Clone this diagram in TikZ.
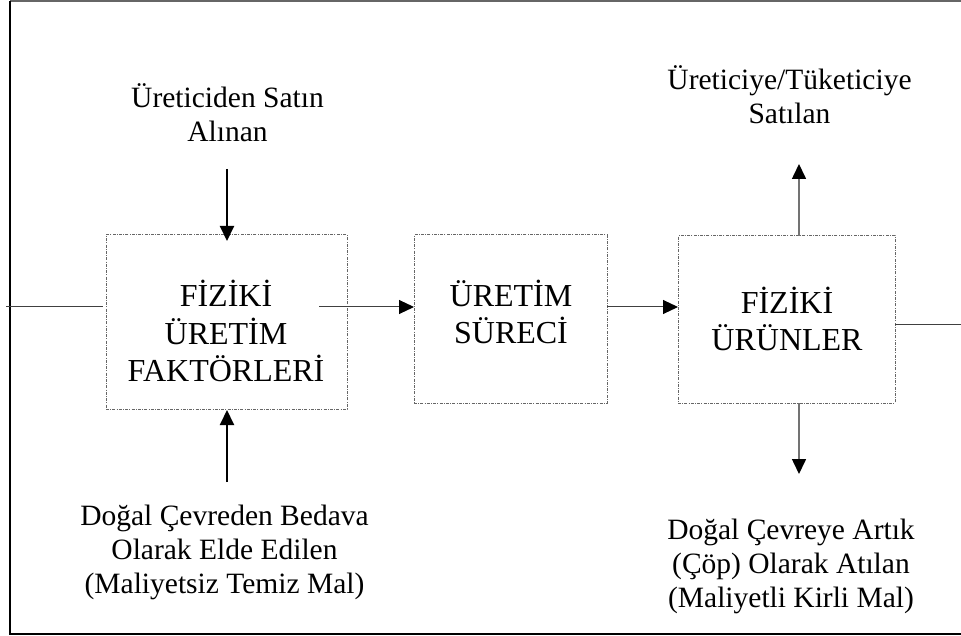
\documentclass[tikz,border=0pt]{standalone}
\usepackage{fontspec}
\setmainfont{Liberation Serif}
\usetikzlibrary{arrows.meta}
\begin{document}
\begin{tikzpicture}[x=1pt,y=-1pt,
  lbl/.style={align=center,inner sep=0pt,anchor=base,font=\fontsize{29.5}{34}\selectfont},
  boxlbl/.style={align=center,inner sep=0pt,anchor=base,font=\fontsize{32}{37}\selectfont},
  pbox/.style={draw=black!60,dash pattern=on 3pt off 1.2pt on 1pt off 1.2pt,line width=1pt,inner sep=0pt},
  tipT/.style={-{Triangle[width=14pt,length=15pt,color=black]}},
  arrK/.style={tipT,line width=2pt,draw=black},
  arrG/.style={tipT,line width=1.6pt,draw=black!55},
  arrH/.style={tipT,line width=1pt,draw=black!75},
  plainH/.style={line width=1pt,draw=black!75},
  frameline/.style={line width=1.5pt,draw=black}
]
\useasboundingbox (0,0) rectangle (961,636);

% outer frame
\draw[frameline,draw=black!60] (10,1) -- (961,1);
\draw[frameline] (10,1) -- (10,634) -- (961,634);

% boxes
\node[pbox,minimum width=241pt,minimum height=174pt] (b1) at (226.5,322) {};
\node[pbox,minimum width=193pt,minimum height=168pt] (b2) at (510.5,319) {};
\node[pbox,minimum width=217pt,minimum height=167pt] (b3) at (786.5,319.5) {};

% box labels (anchor = baseline of last line)
\node[boxlbl] (t1) at (226,381) {FİZİKİ\\ÜRETİM\\FAKTÖRLERİ};
\node[boxlbl] (t2) at (511,343) {ÜRETİM\\SÜRECİ};
\node[boxlbl] (t3) at (787,350) {FİZİKİ\\ÜRÜNLER};

% outer labels
\node[lbl] (tl) at (227.5,142) {Üreticiden Satın\\Alınan};
\node[lbl] (tr) at (789.5,124) {Üreticiye/Tüketiciye\\Satılan};
\node[lbl] (bl) at (224.5,593) {Doğal Çevreden Bedava\\Olarak Elde Edilen\\(Maliyetsiz Temiz Mal)};
\node[lbl] (br) at (791,607) {Doğal Çevreye Artık\\(Çöp) Olarak Atılan\\(Maliyetli Kirli Mal)};

% coordinates
\coordinate (lin) at (6,307);
\coordinate (b1in) at (103,307);
\coordinate (tla) at (227,169);
\coordinate (tlb) at (227,241);
\coordinate (bla) at (227,482);
\coordinate (blb) at (227,410);
\coordinate (h1a) at (319,307);
\coordinate (h1b) at (414,307);
\coordinate (h2a) at (607,307);
\coordinate (h2b) at (678,307);
\coordinate (upa) at (799,236);
\coordinate (upb) at (799,164);
\coordinate (dna) at (799,403);
\coordinate (dnb) at (799,474);
\coordinate (routa) at (895,324);
\coordinate (routb) at (961,324);

% connectors
\draw[plainH] (lin) -- (b1in);
\draw[arrK] (tla) -- (tlb);
\draw[arrK] (bla) -- (blb);
\draw[arrH] (h1a) -- (h1b);
\draw[arrH] (h2a) -- (h2b);
\draw[arrG] (upa) -- (upb);
\draw[arrG] (dna) -- (dnb);
\draw[plainH] (routa) -- (routb);
\end{tikzpicture}
\end{document}
